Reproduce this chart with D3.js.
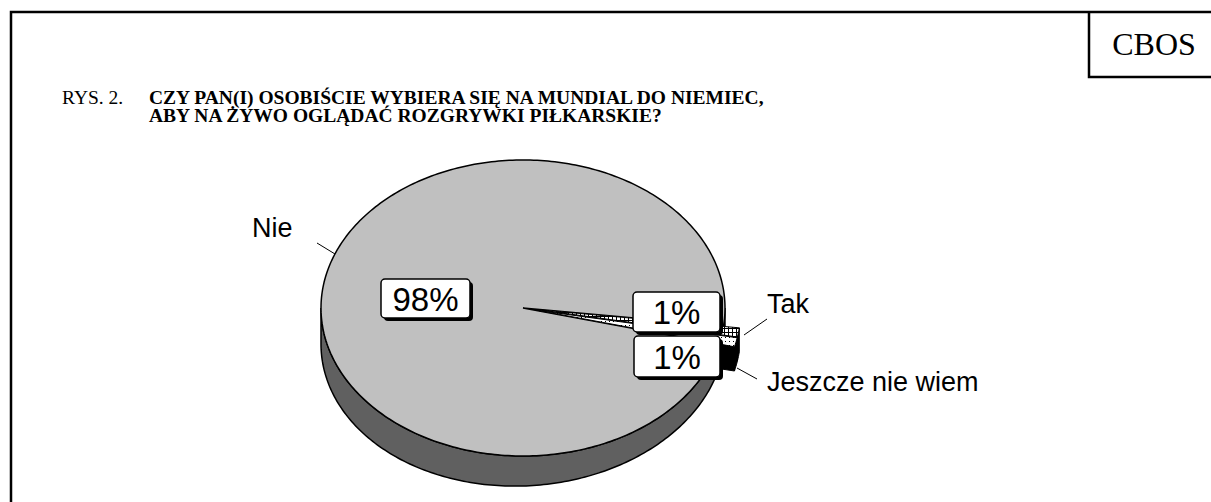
<!DOCTYPE html>
<html>
<head>
<meta charset="utf-8">
<script src="https://cdn.jsdelivr.net/npm/d3@7"></script>
<style>
  body { margin: 0; background: #fff; }
</style>
</head>
<body>
<div id="chart"></div>
<script>
const categories = ["Nie", "Tak", "Jeszcze nie wiem"];
const values = [98, 1, 1];
const percentLabels = ["98%", "1%", "1%"];
const titleLines = [
  "CZY PAN(I) OSOBIŚCIE WYBIERA SIĘ NA MUNDIAL DO NIEMIEC,",
  "ABY NA ŻYWO OGLĄDAĆ ROZGRYWKI PIŁKARSKIE?"
];

const width = 1211, height = 502;
const cx = 523, cy = 308, rx = 202, ry = 148;
const rad = d => d * Math.PI / 180;
// a little perspective: the side is deeper on the left than on the right
const depthAt = a => 30 - 6 * Math.sin(a);

const svg = d3.select("#chart").append("svg")
  .attr("width", width)
  .attr("height", height)
  .style("font-family", "'Liberation Sans', Arial, sans-serif");

// patterns for the small slices
const defs = svg.append("defs");
const grid = defs.append("pattern").attr("id", "grid")
  .attr("width", 4).attr("height", 4).attr("patternUnits", "userSpaceOnUse");
grid.append("rect").attr("width", 4).attr("height", 4).attr("fill", "#fff");
grid.append("path").attr("d", "M0,0.5H4M0.5,0V4").attr("stroke", "#000").attr("stroke-width", 1);
const dots = defs.append("pattern").attr("id", "dots")
  .attr("width", 4).attr("height", 4).attr("patternUnits", "userSpaceOnUse");
dots.append("rect").attr("width", 4).attr("height", 4).attr("fill", "#fff");
dots.append("rect").attr("x", 1).attr("y", 1).attr("width", 1).attr("height", 1).attr("fill", "#000");

const topFill = ["#c0c0c0", "url(#grid)", "url(#dots)"];
const sideFill = ["#606060", "#000", "#000"];

// frame
svg.append("path")
  .attr("d", `M11,${height}V12H${width}`)
  .attr("fill", "none").attr("stroke", "#000").attr("stroke-width", 2.5);
svg.append("path")
  .attr("d", `M1089,12V77H${width}`)
  .attr("fill", "none").attr("stroke", "#000").attr("stroke-width", 2.5);
svg.append("text")
  .attr("x", 1154).attr("y", 55)
  .attr("text-anchor", "middle")
  .style("font-family", "'Liberation Serif', 'Times New Roman', serif")
  .style("font-size", "32px")
  .text("CBOS");

// title
const serif = "'Liberation Serif', 'Times New Roman', serif";
svg.append("text")
  .attr("x", 62).attr("y", 104)
  .style("font-family", serif)
  .style("font-size", "19.5px")
  .text("RYS. 2.");
svg.append("g").selectAll("text")
  .data(titleLines)
  .join("text")
  .attr("x", 149)
  .attr("y", (d, i) => 104 + i * 18)
  .style("font-family", serif)
  .style("font-size", "19.5px")
  .style("font-weight", "bold")
  .text(d => d);

// 3D pie
const pie = d3.pie().sort(null)
  .startAngle(rad(104.2))
  .endAngle(rad(104.2 + 360));
const arcs = pie(values).map((d, i) => {
  const mid = (d.startAngle + d.endAngle) / 2;
  const ex = i === 0 ? 0 : 16;
  d.off = [ex * Math.sin(mid), -ex * (ry / rx) * Math.cos(mid)];
  d.i = i;
  return d;
});

const pt = (a, off, down = false) =>
  [cx + off[0] + rx * Math.sin(a), cy + off[1] - ry * Math.cos(a) + (down ? depthAt(a) : 0)];
function arcPts(a0, a1, off, down) {
  const n = Math.max(2, Math.ceil(Math.abs(a1 - a0) / rad(1)));
  return d3.range(n + 1).map(k => pt(a0 + (a1 - a0) * k / n, off, down));
}
const line = d3.line();
function topPath(d) {
  const c = [cx + d.off[0], cy + d.off[1]];
  return line([c, ...arcPts(d.startAngle, d.endAngle, d.off, false)]) + "Z";
}
function sidePaths(d) {
  const out = [];
  for (let k = -1; k <= 2; k++) {
    const lo = Math.max(d.startAngle, Math.PI / 2 + 2 * Math.PI * k);
    const hi = Math.min(d.endAngle, 3 * Math.PI / 2 + 2 * Math.PI * k);
    if (hi > lo) {
      out.push(line([...arcPts(lo, hi, d.off, false), ...arcPts(hi, lo, d.off, true)]) + "Z");
    }
  }
  return out;
}
function cutPath(d) {
  const c = [cx + d.off[0], cy + d.off[1]];
  const e = pt(d.endAngle, d.off, false);
  const eb = pt(d.endAngle, d.off, true);
  return line([c, e, eb, [c[0], c[1] + 30]]) + "Z";
}

const g = svg.append("g");
const small = arcs.filter(d => d.i > 0);
const big = arcs.filter(d => d.i === 0);

g.selectAll(".cut").data(small).join("path")
  .attr("d", cutPath).attr("fill", "#000").attr("stroke", "#000");
big.forEach(d => sidePaths(d).forEach(p =>
  g.append("path").attr("d", p).attr("fill", sideFill[d.i]).attr("stroke", "#000").attr("stroke-width", 1.5)));
g.selectAll(".topbig").data(big).join("path")
  .attr("d", topPath).attr("fill", d => topFill[d.i]).attr("stroke", "#000").attr("stroke-width", 1.5);
small.forEach(d => sidePaths(d).forEach(p =>
  g.append("path").attr("d", p).attr("fill", sideFill[d.i]).attr("stroke", "#000").attr("stroke-width", 1)));
g.selectAll(".topsmall").data(small).join("path")
  .attr("d", topPath).attr("fill", d => topFill[d.i]).attr("stroke", "#000").attr("stroke-width", 1);

// category labels with leader lines
const catLayout = [
  { x: 252, y: 237, l: [[317, 243], [335, 254]] },
  { x: 767, y: 313, l: [[767, 319], [744, 335]] },
  { x: 767, y: 391, l: [[757, 379], [737, 368]] }
];
categories.forEach((c, i) => {
  const L = catLayout[i];
  svg.append("path").attr("d", line(L.l)).attr("stroke", "#000").attr("stroke-width", 1);
  svg.append("text")
    .attr("x", L.x).attr("y", L.y)
    .style("font-size", "27px")
    .text(c);
});

// percentage boxes
const boxLayout = [
  { x: 381, y: 279, w: 89, h: 39 },
  { x: 633, y: 292, w: 87, h: 40 },
  { x: 634, y: 336, w: 86, h: 41 }
];
percentLabels.forEach((t, i) => {
  const b = boxLayout[i];
  svg.append("rect")
    .attr("x", b.x + 3).attr("y", b.y + 3).attr("width", b.w).attr("height", b.h)
    .attr("rx", 4).attr("fill", "#000");
  svg.append("rect")
    .attr("x", b.x).attr("y", b.y).attr("width", b.w).attr("height", b.h)
    .attr("rx", 4).attr("fill", "#fff").attr("stroke", "#000").attr("stroke-width", 1.5);
  svg.append("text")
    .attr("x", b.x + b.w / 2).attr("y", b.y + b.h / 2 + 12)
    .attr("text-anchor", "middle")
    .style("font-size", "33px")
    .text(t);
});
</script>
</body>
</html>
